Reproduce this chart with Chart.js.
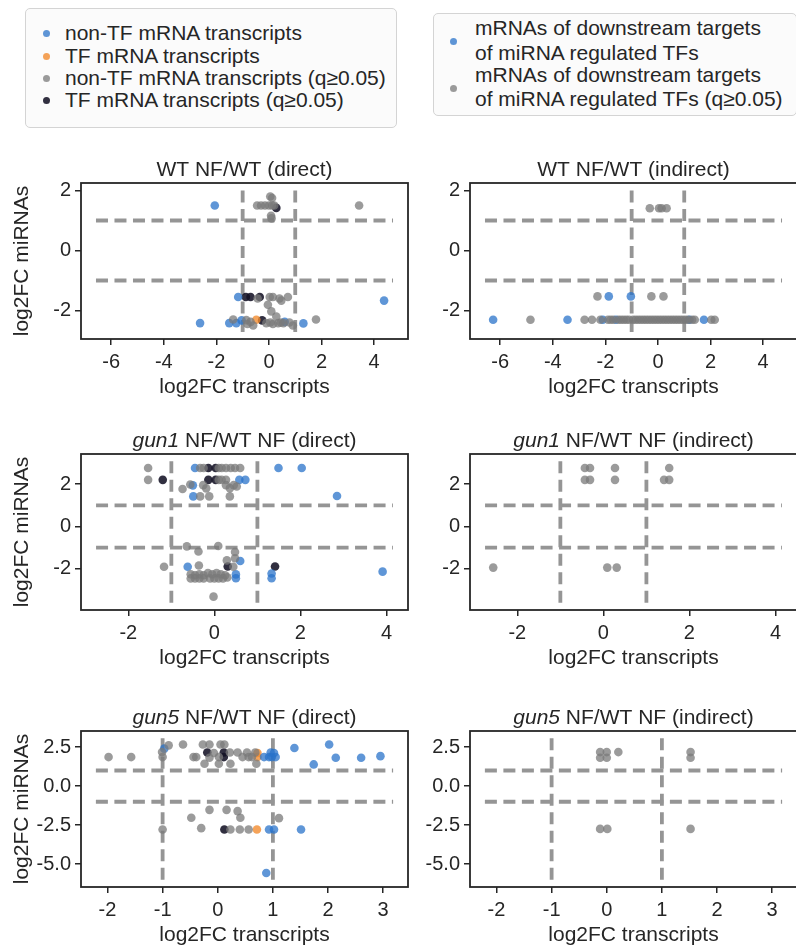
<!DOCTYPE html>
<html>
<head>
<meta charset="utf-8">
<script src="https://cdn.jsdelivr.net/npm/chart.js@4.4.0/dist/chart.umd.min.js"></script>
<style>
  body { margin: 0; width: 796px; height: 949px; overflow: hidden; background: #fff;
         font-family: "Liberation Sans", Arial, sans-serif; color: #262626; }
  canvas { position: absolute; }
  .legend { position: absolute; box-sizing: border-box; border: 1.5px solid #d4d4d4;
            border-radius: 5px; background: #fbfbfb; }
  .lrow { position: absolute; font-size: 21px; line-height: 22px; white-space: nowrap; }
  .dot { position: absolute; width: 7px; height: 7px; border-radius: 50%; }
</style>
</head>
<body>

<div class="legend" style="left:25px;top:8px;width:372px;height:120px"></div>
<span class="dot" style="left:43px;top:30px;background:rgba(42,115,202,0.75)"></span>
<span class="dot" style="left:43px;top:53px;background:rgba(242,140,47,0.8)"></span>
<span class="dot" style="left:43px;top:75px;background:rgba(122,122,122,0.75)"></span>
<span class="dot" style="left:43px;top:97px;background:rgba(20,18,38,0.88)"></span>
<div class="lrow" style="left:65px;top:22px">non-TF mRNA transcripts</div>
<div class="lrow" style="left:65px;top:45px">TF mRNA transcripts</div>
<div class="lrow" style="left:65px;top:67px">non-TF mRNA transcripts (q≥0.05)</div>
<div class="lrow" style="left:65px;top:89px">TF mRNA transcripts (q≥0.05)</div>

<div class="legend" style="left:433px;top:13px;width:364px;height:103px"></div>
<span class="dot" style="left:450px;top:38px;background:rgba(42,115,202,0.75)"></span>
<span class="dot" style="left:450px;top:85px;background:rgba(122,122,122,0.75)"></span>
<div class="lrow" style="left:475px;top:17px">mRNAs of downstream targets</div>
<div class="lrow" style="left:475px;top:42px">of miRNA regulated TFs</div>
<div class="lrow" style="left:475px;top:64px">mRNAs of downstream targets</div>
<div class="lrow" style="left:475px;top:88px">of miRNA regulated TFs (q≥0.05)</div>

<canvas id="wtDirect" width="416" height="272" style="left:0px;top:133px"></canvas>
<canvas id="wtIndirect" width="416" height="272" style="left:389px;top:133px"></canvas>
<canvas id="gun1Direct" width="416" height="272" style="left:0px;top:404px"></canvas>
<canvas id="gun1Indirect" width="416" height="272" style="left:389px;top:404px"></canvas>
<canvas id="gun5Direct" width="416" height="272" style="left:0px;top:681px"></canvas>
<canvas id="gun5Indirect" width="416" height="272" style="left:389px;top:681px"></canvas>

<script>
// fold-change cut-offs drawn as dashed lines
const foldThreshold = [-1, 1];

// WT NF/WT (direct)
const wtDirectNonTF = [[-2.06, 1.5], [-2.62, -2.42], [-1.51, -2.42], [-1.24, -2.42], [-1.04, -2.33],
  [-1.17, -1.55], [0.6, -2.38], [1.31, -2.43], [4.38, -1.67]];
const wtDirectTF = [[-0.48, -2.31]];
const wtDirectNonTFq = [[-0.45, 1.5], [-0.3, 1.5], [-0.15, 1.5], [0.0, 1.5], [0.12, 1.5], [0.2, 1.5],
  [0.05, 1.8], [0.12, 1.75], [0.08, 1.16], [0.1, 1.07], [3.43, 1.5],
  [0.03, -1.55], [0.15, -1.55], [0.4, -1.6], [0.72, -1.55], [-0.43, -1.6], [-0.04, -1.81],
  [0.09, -2.03], [0.47, -1.67],
  [-1.36, -2.3], [-0.86, -2.32], [-0.82, -2.45], [-0.6, -2.5], [-0.7, -2.38], [-0.1, -2.42],
  [0.05, -2.4], [0.15, -2.45], [0.28, -2.2], [0.35, -2.42], [0.45, -2.4], [0.55, -2.42],
  [0.78, -2.4], [0.91, -2.5], [1.79, -2.3]];
const wtDirectTFq = [[-0.88, -1.55], [-0.7, -1.55], [-0.35, -1.55], [-0.26, -2.33], [0.28, 1.42]];

// WT NF/WT (indirect)
const wtIndirectTargets = [[-6.27, -2.31], [-3.44, -2.31], [-2.1, -2.31], [-1.6, -2.31], [1.2, -2.31],
  [1.75, -2.31], [-1.87, -1.53], [-1.03, -1.53]];
const wtIndirectTargetsq = [[-0.31, 1.41], [0.04, 1.41], [0.14, 1.41], [0.33, 1.41],
  [-2.3, -1.53], [-0.25, -1.53], [0.21, -1.53],
  [-4.85, -2.31], [-2.79, -2.31], [-2.51, -2.31], [-2.19, -2.31], [-1.9, -2.31], [-1.8, -2.31],
  [-1.7, -2.31], [-1.5, -2.31], [-1.4, -2.31], [-1.3, -2.31], [-1.2, -2.31], [-1.1, -2.31],
  [-0.95, -2.31], [-0.85, -2.31], [-0.75, -2.31], [-0.65, -2.31], [-0.55, -2.31], [-0.45, -2.31],
  [-0.35, -2.31], [-0.25, -2.31], [-0.15, -2.31], [-0.05, -2.31], [0.05, -2.31], [0.15, -2.31],
  [0.25, -2.31], [0.35, -2.31], [0.45, -2.31], [0.55, -2.31], [0.65, -2.31], [0.75, -2.31],
  [0.85, -2.31], [0.95, -2.31], [1.05, -2.31], [1.15, -2.31], [1.3, -2.31], [1.4, -2.31],
  [2.03, -2.31], [2.16, -2.31]];

// gun1 NF/WT NF (direct)
const gun1DirectNonTF = [[-0.45, 2.76], [1.49, 2.76], [2.03, 2.76], [0.58, 2.2], [0.72, 2.2],
  [-0.5, 1.94], [-0.49, 1.42], [2.85, 1.44], [-0.62, -1.9], [0.6, -1.63], [0.5, -2.26],
  [0.5, -2.44], [1.33, -2.22], [1.33, -2.44], [3.91, -2.13]];
const gun1DirectTF = [];
const gun1DirectNonTFq = [[-1.54, 2.76], [-0.33, 2.76], [-0.25, 2.76], [0.1, 2.76], [0.17, 2.76],
  [0.27, 2.76], [0.38, 2.76], [0.48, 2.76], [0.6, 2.76],
  [-1.54, 2.2], [0.1, 2.2], [0.17, 2.2], [0.27, 2.2], [0.45, 1.95],
  [-0.74, 1.77], [-0.56, 1.98], [-0.26, 1.95], [0.27, 1.95], [0.36, 1.81], [0.52, 1.89], [-0.19, 1.8],
  [-0.33, 1.42], [-0.12, 1.42], [0.36, 1.42],
  [-0.64, -0.94], [0.09, -0.92], [-0.37, -1.18], [0.48, -1.2], [0.29, -1.6], [0.48, -1.5],
  [-0.36, -1.84], [-1.17, -1.9], [0.44, -1.9], [-0.02, -3.31],
  [-0.55, -2.25], [-0.45, -2.3], [-0.35, -2.25], [-0.25, -2.3], [-0.15, -2.2], [-0.05, -2.25],
  [0.05, -2.2], [0.15, -2.25], [0.25, -2.3], [-0.55, -2.45], [-0.45, -2.45], [-0.35, -2.45],
  [-0.25, -2.45], [-0.1, -2.45], [0.0, -2.45], [0.1, -2.45], [0.2, -2.45], [0.3, -2.4]];
const gun1DirectTFq = [[-0.14, 2.76], [0.03, 2.76], [-0.14, 2.2], [0.03, 2.2], [-1.2, 2.2],
  [0.31, -1.89], [1.41, -1.89]];

// gun1 NF/WT NF (indirect)
const gun1IndirectTargets = [];
const gun1IndirectTargetsq = [[-0.43, 2.76], [-0.31, 2.76], [0.27, 2.76], [1.53, 2.76],
  [-0.43, 2.2], [-0.31, 2.2], [0.27, 2.2], [1.41, 2.2], [1.53, 2.2],
  [-2.56, -1.94], [0.09, -1.94], [0.31, -1.94]];

// gun5 NF/WT NF (direct)
const gun5DirectNonTF = [[-0.97, 2.4], [0.84, 1.86], [0.93, 1.86], [0.98, 1.86], [0.96, 2.15],
  [1.02, 2.12], [1.05, 1.86], [1.39, 2.44], [1.74, 1.39], [2.02, 2.67], [2.14, 1.82], [2.6, 1.82],
  [2.95, 1.92], [0.93, -2.78], [1.02, -2.78], [1.51, -2.78], [0.88, -5.56]];
const gun5DirectTF = [[0.72, 2.12], [0.72, 1.86], [0.71, -2.78]];
const gun5DirectNonTFq = [[-1.98, 1.86], [-1.57, 1.86], [-1.0, 1.86], [-1.01, 2.18], [-0.89, 2.61],
  [-0.63, 2.67], [-0.44, 1.86], [-0.39, 1.86], [-0.27, 2.67], [-0.15, 2.67], [-0.24, 1.43],
  [-0.15, 1.82], [-0.07, 2.12], [0.02, 1.43], [0.02, 1.86], [0.05, 2.67], [0.12, 2.67], [0.23, 1.43],
  [0.22, 2.15], [0.36, 2.15], [0.45, 1.86], [0.53, 2.15], [0.56, 1.86], [0.62, 1.86], [0.68, 2.15],
  [0.7, 1.43],
  [-0.15, -1.52], [-0.48, -2.03], [0.16, -1.52], [0.36, -1.6], [0.41, -2.03], [1.11, -2.05],
  [-0.3, -2.69], [-1.0, -2.78], [0.23, -2.78], [0.4, -2.78], [0.56, -2.78]];
const gun5DirectTFq = [[-0.19, 2.15], [0.11, 2.15], [0.11, 1.86], [0.12, -2.78]];

// gun5 NF/WT NF (indirect)
const gun5IndirectTargets = [];
const gun5IndirectTargetsq = [[-0.12, 2.18], [0.0, 2.18], [-0.12, 1.82], [0.0, 1.82], [0.21, 2.18],
  [1.52, 2.18], [1.52, 1.82], [-0.12, -2.74], [0.01, -2.74], [1.52, -2.74]];

// tick labels per row
const wtXTicks = [-6, -4, -2, 0, 2, 4];
const wtYTicks = [-2, 0, 2];
const gun1XTicks = [-2, 0, 2, 4];
const gun1YTicks = [-2, 0, 2];
const gun5XTicks = [-2, -1, 0, 1, 2, 3];
const gun5YTicks = [-5, -2.5, 0, 2.5];

const FONT = "'Liberation Sans', Arial, sans-serif";
const INK = '#262626';
const BLUE = 'rgba(42,115,202,0.75)';
const ORANGE = 'rgba(242,140,47,0.8)';
const GREY = 'rgba(122,122,122,0.75)';
const DARK = 'rgba(20,18,38,0.88)';

Chart.defaults.font.family = FONT;
Chart.defaults.color = INK;

// axis ranges of each row, and how far the dashed cut-off lines reach
const rows = {
  wt:   { x: [-7.15, 5.29], y: [-2.95, 2.25], lineX: [-6.58, 4.72], lineY: [-2.72, 2.02],
          xTicks: wtXTicks, yTicks: wtYTicks, dec: 0 },
  gun1: { x: [-3.1, 4.5], y: [-3.94, 3.42], lineX: [-2.75, 4.15], lineY: [-3.6, 3.08],
          xTicks: gun1XTicks, yTicks: gun1YTicks, dec: 0 },
  gun5: { x: [-2.48, 3.45], y: [-6.46, 3.53], lineX: [-2.21, 3.18], lineY: [-6.0, 3.07],
          xTicks: gun5XTicks, yTicks: gun5YTicks, dec: 1 }
};

// title with an optional italic part
const panelTitle = {
  id: 'panelTitle',
  afterDraw(chart, args, opts) {
    const {ctx, chartArea} = chart;
    const fonts = opts.parts.map(p => (p.italic ? 'italic ' : '') + '21px ' + FONT);
    ctx.save();
    ctx.fillStyle = INK;
    ctx.textBaseline = 'middle';
    let total = 0;
    opts.parts.forEach((p, i) => { ctx.font = fonts[i]; total += ctx.measureText(p.text).width; });
    let x = (chartArea.left + chartArea.right) / 2 - total / 2;
    opts.parts.forEach((p, i) => {
      ctx.font = fonts[i];
      ctx.fillText(p.text, x, chartArea.top - 13);
      x += ctx.measureText(p.text).width;
    });
    ctx.restore();
  }
};

// four spines
const frame = {
  id: 'frame',
  afterDatasetsDraw(chart) {
    const {ctx, chartArea: a} = chart;
    ctx.save();
    ctx.strokeStyle = INK;
    ctx.lineWidth = 1.8;
    ctx.strokeRect(a.left, a.top, a.right - a.left, a.bottom - a.top);
    ctx.restore();
  }
};

function toPoints(pairs) {
  return pairs.map(p => ({x: p[0], y: p[1]}));
}

function cutLines(r) {
  const style = { showLine: true, pointRadius: 0, borderColor: '#959595', borderWidth: 3.8,
                  borderDash: [12, 6.5], fill: false, order: 10 };
  const out = [];
  foldThreshold.forEach(t => {
    out.push(Object.assign({ data: [{x: r.lineX[0], y: t}, {x: r.lineX[1], y: t}] }, style));
    out.push(Object.assign({ data: [{x: t, y: r.lineY[0]}, {x: t, y: r.lineY[1]}] }, style));
  });
  return out;
}

function makePanel(id, r, groups, titleParts, yTitle) {
  const points = groups.map(g => ({
    data: toPoints(g.data), backgroundColor: g.color, pointRadius: 4.3,
    pointBorderWidth: 0, borderWidth: 0, order: 0
  }));
  const tickGrid = { drawOnChartArea: false, drawTicks: true, tickLength: 6, color: INK, lineWidth: 1.5 };
  new Chart(document.getElementById(id), {
    type: 'scatter',
    data: { datasets: cutLines(r).concat(points) },
    plugins: [panelTitle, frame],
    options: {
      responsive: false,
      animation: false,
      events: [],
      layout: { padding: { top: 50, right: 8, bottom: 0, left: 0 } },
      plugins: {
        legend: { display: false },
        tooltip: { enabled: false },
        panelTitle: { parts: titleParts }
      },
      scales: {
        x: {
          type: 'linear', min: r.x[0], max: r.x[1],
          afterBuildTicks: s => { s.ticks = r.xTicks.map(v => ({value: v})); },
          afterFit: s => { s.height = 66; },
          ticks: { font: { size: 20 }, color: INK, padding: 5, maxRotation: 0, autoSkip: false,
                   callback: v => String(v) },
          grid: tickGrid,
          border: { display: false },
          title: { display: true, text: 'log2FC transcripts', font: { size: 21 }, color: INK,
                   padding: { top: 0, bottom: 5.4 } }
        },
        y: {
          type: 'linear', min: r.y[0], max: r.y[1],
          afterBuildTicks: s => { s.ticks = r.yTicks.map(v => ({value: v})); },
          afterFit: s => { s.width = 81; },
          ticks: { font: { size: 20 }, color: INK, padding: 4, autoSkip: false,
                   callback: v => v.toFixed(r.dec) },
          grid: tickGrid,
          border: { display: false },
          title: { display: yTitle, text: 'log2FC miRNAs', font: { size: 21 }, color: INK,
                   padding: { top: 9.4, bottom: 0 } }
        }
      }
    }
  });
}

makePanel('wtDirect', rows.wt, [
  { data: wtDirectNonTFq, color: GREY }, { data: wtDirectNonTF, color: BLUE },
  { data: wtDirectTF, color: ORANGE }, { data: wtDirectTFq, color: DARK }
], [{ text: 'WT NF/WT (direct)' }], true);

makePanel('wtIndirect', rows.wt, [
  { data: wtIndirectTargetsq, color: GREY }, { data: wtIndirectTargets, color: BLUE }
], [{ text: 'WT NF/WT (indirect)' }], false);

makePanel('gun1Direct', rows.gun1, [
  { data: gun1DirectNonTFq, color: GREY }, { data: gun1DirectNonTF, color: BLUE },
  { data: gun1DirectTF, color: ORANGE }, { data: gun1DirectTFq, color: DARK }
], [{ text: 'gun1', italic: true }, { text: ' NF/WT NF (direct)' }], true);

makePanel('gun1Indirect', rows.gun1, [
  { data: gun1IndirectTargetsq, color: GREY }, { data: gun1IndirectTargets, color: BLUE }
], [{ text: 'gun1', italic: true }, { text: ' NF/WT NF (indirect)' }], false);

makePanel('gun5Direct', rows.gun5, [
  { data: gun5DirectNonTFq, color: GREY }, { data: gun5DirectNonTF, color: BLUE },
  { data: gun5DirectTF, color: ORANGE }, { data: gun5DirectTFq, color: DARK }
], [{ text: 'gun5', italic: true }, { text: ' NF/WT NF (direct)' }], true);

makePanel('gun5Indirect', rows.gun5, [
  { data: gun5IndirectTargetsq, color: GREY }, { data: gun5IndirectTargets, color: BLUE }
], [{ text: 'gun5', italic: true }, { text: ' NF/WT NF (indirect)' }], false);
</script>
</body>
</html>
